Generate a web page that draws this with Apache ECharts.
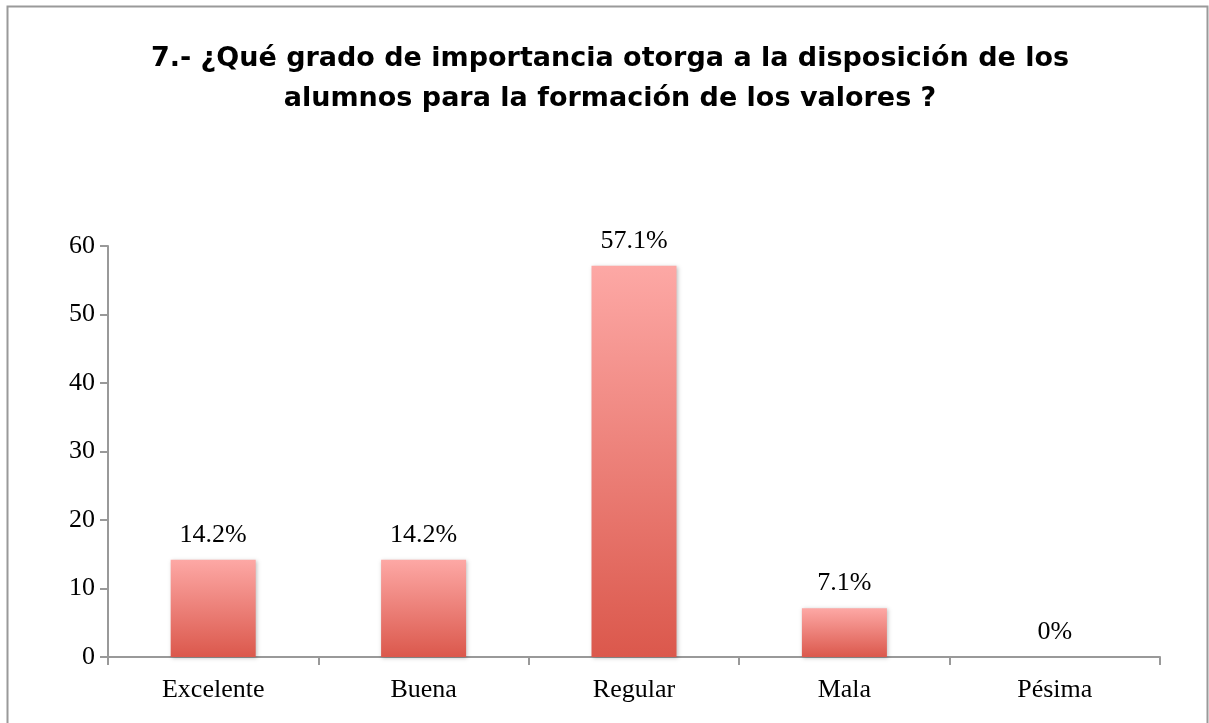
<!DOCTYPE html>
<html>
<head>
<meta charset="utf-8">
<script src="https://cdn.jsdelivr.net/npm/echarts@6/dist/echarts.min.js"></script>
<style>html,body{margin:0;padding:0;background:#fff}#c{width:1209px;height:723px}</style>
</head>
<body>
<div id="c"></div>
<script>
var categories = ['Excelente', 'Buena', 'Regular', 'Mala', 'Pésima'];
var values = [14.2, 14.2, 57.1, 7.1, 0];
var valueLabels = ['14.2%', '14.2%', '57.1%', '7.1%', '0%'];
var titleText = '7.- ¿Qué grado de importancia otorga a la disposición de los\nalumnos para la formación de los valores ?';

var chart = echarts.init(document.getElementById('c'));
var serif = '"Liberation Serif", "DejaVu Serif", serif';
chart.setOption({
  animation: false,
  graphic: [{
    type: 'rect', shape: {x: 7.5, y: 6.5, width: 1200, height: 740},
    style: {fill: 'none', stroke: '#9a9a9a', lineWidth: 2}, silent: true
  }],
  title: {
    text: titleText, left: 605, top: 34, textAlign: 'center',
    textStyle: {fontFamily: '"DejaVu Sans", "Liberation Sans", Arial, sans-serif', fontWeight: 'bold', fontSize: 27, lineHeight: 40, color: '#000'}
  },
  grid: {left: 108, right: 49, top: 246, bottom: 66},
  xAxis: {
    type: 'category', data: categories,
    axisLine: {lineStyle: {color: '#999', width: 2}},
    axisTick: {show: true, length: 8, lineStyle: {color: '#999', width: 2}},
    axisLabel: {fontFamily: serif, fontSize: 26, color: '#000', margin: 20}
  },
  yAxis: {
    type: 'value', min: 0, max: 60, interval: 10,
    splitLine: {show: false},
    axisLine: {show: true, lineStyle: {color: '#999', width: 2}},
    axisTick: {show: true, length: 8, lineStyle: {color: '#999', width: 2}},
    axisLabel: {fontFamily: serif, fontSize: 26, color: '#000', margin: 13}
  },
  series: [{
    type: 'bar', data: values, barWidth: 85,
    itemStyle: {
      color: new echarts.graphic.LinearGradient(0, 0, 0, 1, [
        {offset: 0, color: '#FDA8A5'}, {offset: 1, color: '#DB584C'}
      ]),
      shadowColor: 'rgba(0,0,0,0.25)', shadowBlur: 4, shadowOffsetX: 1, shadowOffsetY: 1
    },
    label: {
      show: true, position: 'top', distance: 12,
      fontFamily: serif, fontSize: 26, color: '#000',
      formatter: function (p) { return valueLabels[p.dataIndex]; }
    }
  }]
});
</script>
</body>
</html>
